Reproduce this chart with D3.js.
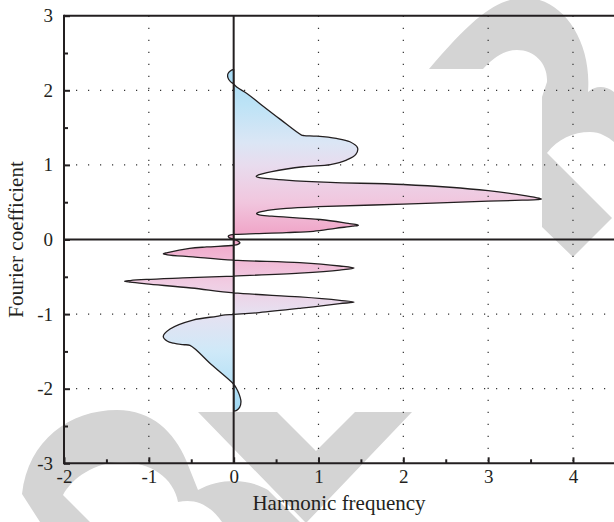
<!DOCTYPE html>
<html><head><meta charset="utf-8">
<script src="https://cdn.jsdelivr.net/npm/d3@7"></script>
<style>
body{margin:0;background:#fff;}
svg text{font-family:"Liberation Serif","Times New Roman",serif;fill:#231f20;}
</style>
</head><body>
<svg id="chart" width="614" height="522"></svg>
<script>
// ---- data ----
const xMajorTicks = [-2, -1, 0, 1, 2, 3, 4];
const xTickLabels = ["-2", "-1", "0", "1", "2", "3", "4"];
const xMinorTicks = [-1.5, -0.5, 0.5, 1.5, 2.5, 3.5];
const yMajorTicks = [-3, -2, -1, 0, 1, 2, 3];
const yTickLabels = ["-3", "-2", "-1", "0", "1", "2", "3"];
const yMinorTicks = [-2.5, -1.5, -0.5, 0.5, 1.5, 2.5];
const xGrid = [-1, 1, 2, 3, 4];
const yGrid = [-2, -1, 1, 2];
const xTitle = "Harmonic frequency";
const yTitle = "Fourier coefficient";

// closed curve traced from the top (harmonic frequency, Fourier coefficient)
const curveX = [
  0.00, -0.04, -0.068, -0.068, -0.04, 0.00,
  0.04, 0.16, 0.31, 0.55, 0.80, 0.83, 0.98, 1.21, 1.37, 1.46, 1.44, 1.33, 1.14,
  0.82, 0.45, 0.29, 0.265, 0.29, 0.62, 1.14, 2.0, 3.0, 3.45, 3.60, 3.63, 3.58, 3.4, 3.0, 2.0, 1.0, 0.62, 0.40, 0.285, 0.27, 0.30, 0.45, 1.02, 1.35, 1.46, 1.47, 1.40, 1.2, 0.94, 0.62, 0.05,
  -0.035, -0.064, -0.05, 0.00, 0.05, 0.074, 0.05, 0.00,
  -0.32, -0.52, -0.78, -0.83, -0.78, -0.48, 0.00, 0.78, 1.25, 1.42, 1.25, 0.78, 0.00,
  -0.6, -1.03, -1.22, -1.285, -1.22, -1.03, -0.5, 0.00, 0.78, 1.25, 1.42, 1.25, 0.8, 0.3, 0.00,
  -0.1, -0.2, -0.48, -0.75, -0.83, -0.78, -0.71, -0.6, -0.515, -0.26, 0.00,
  0.03, 0.06, 0.086, 0.07, 0.035, 0.00
];
const curveY = [
  2.28, 2.26, 2.22, 2.17, 2.12, 2.085,
  2.04, 1.955, 1.82, 1.61, 1.40, 1.393, 1.385, 1.355, 1.31, 1.23, 1.14, 1.065, 1.005,
  0.975, 0.91, 0.865, 0.848, 0.832, 0.797, 0.765, 0.737, 0.655, 0.585, 0.553, 0.542, 0.534, 0.527, 0.514, 0.474, 0.44, 0.418, 0.39, 0.36, 0.347, 0.33, 0.313, 0.268, 0.215, 0.195, 0.19, 0.178, 0.15, 0.11, 0.093, 0.07,
  0.062, 0.045, 0.022, 0.005, -0.02, -0.045, -0.065, -0.077,
  -0.10, -0.12, -0.175, -0.19, -0.205, -0.233, -0.277, -0.31, -0.355, -0.383, -0.41, -0.45, -0.49,
  -0.515, -0.535, -0.55, -0.56, -0.572, -0.595, -0.65, -0.715, -0.77, -0.815, -0.838, -0.86, -0.92, -0.98, -1.005,
  -1.01, -1.03, -1.08, -1.20, -1.30, -1.365, -1.39, -1.41, -1.42, -1.68, -1.94,
  -1.99, -2.06, -2.17, -2.25, -2.29, -2.30
];
// fill colour by coefficient value
const gradValues = [2.3, 1.8, 1.3, 1.0, 0.5, 0.1, 0.0, -0.2, -0.6, -1.0, -1.5, -2.0, -2.3];
const gradColors = ["#a6dbf5", "#bde3f6", "#dbe6f5", "#e8dcee", "#f1c6de", "#f0a7c9", "#f0a5c8",
                    "#f1b4d2", "#f0cde3", "#e6e1f1", "#cfe9f8", "#b3e0f6", "#9fd8f3"];

// ---- chart ----
const W = 614, H = 522;
const FONT = '"Liberation Serif","Times New Roman",serif';
const svg = d3.select("#chart");
const x = d3.scaleLinear().domain([-2, 4.5]).range([64, 615.4]);
const y = d3.scaleLinear().domain([-3, 3]).range([463.3, 15.7]);
const ink = "#231f20";

// watermark (decorative)
const wm = svg.append("g").attr("fill", "#d4d4d4");
wm.append("path").attr("d",
  "M429,69 L483,69 C495,56 505,50 517,50 C535,50 548,64 547,82 L542,97 L542,227 L573,257 L612,218 L547,153 " +
  "C558,139 573,132 590,132 C600,132 608,137 614,142 L614,92 C606,86 596,85 588,92 " +
  "C592,40 562,-2 526,-2 C498,-2 476,14 429,69 Z");
wm.append("path").attr("d", "M198,412 L277,412 L316,451 L355,412 L412,412 L307,522 L305,522 Z");
wm.append("path").attr("d",
  "M22,494 C28,440 70,410 117,410 C152,410 174,432 186,460 L198,490 C220,478 248,478 268,490 L300,522 L222,522 " +
  "C210,505 196,498 178,502 C174,478 150,462 122,462 C95,462 72,478 63,495 L90,522 L40,522 Z");

// horizontal grid (under the fill)
svg.append("g").selectAll("line").data(yGrid).join("line")
  .attr("x1", x(-2)).attr("x2", W).attr("y1", d => y(d)).attr("y2", d => y(d))
  .attr("stroke", "#333").attr("stroke-width", 1.2).attr("stroke-dasharray", "1.2 10.8");

// gradient
const defs = svg.append("defs");
const grad = defs.append("linearGradient").attr("id", "fillGrad")
  .attr("gradientUnits", "userSpaceOnUse")
  .attr("x1", 0).attr("x2", 0).attr("y1", y(2.3)).attr("y2", y(-2.3));
gradValues.forEach((v, i) => {
  grad.append("stop").attr("offset", (2.3 - v) / 4.6).attr("stop-color", gradColors[i]);
});

// curve
const pts = curveX.map((v, i) => [v, curveY[i]]);
const line = d3.line().x(d => x(d[0])).y(d => y(d[1])).curve(d3.curveCatmullRom.alpha(0.5));
svg.append("path").attr("d", line(pts) + "Z")
  .attr("fill", "url(#fillGrad)").attr("fill-rule", "nonzero")
  .attr("stroke", ink).attr("stroke-width", 1.3).attr("stroke-linejoin", "round");

// vertical grid
svg.append("g").selectAll("line").data(xGrid).join("line")
  .attr("y1", y(3)).attr("y2", y(-3)).attr("x1", d => x(d)).attr("x2", d => x(d))
  .attr("stroke", "#333").attr("stroke-width", 1.2).attr("stroke-dasharray", "1.2 10.8");

// zero lines
svg.append("line").attr("x1", x(-2)).attr("x2", W).attr("y1", y(0)).attr("y2", y(0))
  .attr("stroke", ink).attr("stroke-width", 2);
svg.append("line").attr("x1", x(0)).attr("x2", x(0)).attr("y1", y(3)).attr("y2", y(-3))
  .attr("stroke", ink).attr("stroke-width", 2);

// axes
const xAxis = d3.axisBottom(x).tickValues(xMajorTicks).tickSize(-6).tickSizeOuter(0).tickPadding(6.5)
  .tickFormat((d, i) => xTickLabels[i]);
const gx = svg.append("g").attr("transform", `translate(0,${y(-3)})`).call(xAxis);
const xMinor = d3.axisBottom(x).tickValues(xMinorTicks).tickSize(-4).tickSizeOuter(0).tickFormat("");
const gxm = svg.append("g").attr("transform", `translate(0,${y(-3)})`).call(xMinor);

const yAxis = d3.axisLeft(y).tickValues(yMajorTicks).tickSize(-6).tickSizeOuter(0).tickPadding(11)
  .tickFormat((d, i) => yTickLabels[i]);
const gy = svg.append("g").attr("transform", `translate(${x(-2)},0)`).call(yAxis);
const yMinor = d3.axisLeft(y).tickValues(yMinorTicks).tickSize(-4).tickSizeOuter(0).tickFormat("");
const gym = svg.append("g").attr("transform", `translate(${x(-2)},0)`).call(yMinor);

[gx, gxm, gy, gym].forEach(g => {
  g.attr("font-family", FONT).attr("font-size", 19);
  g.select(".domain").remove();
  g.selectAll(".tick line").attr("stroke", ink).attr("stroke-width", 2);
  g.selectAll(".tick text").attr("font-family", FONT).attr("font-size", 19).style("font-family", FONT).style("fill", ink);
});

// frame
svg.append("line").attr("x1", x(-2)).attr("x2", W).attr("y1", y(3)).attr("y2", y(3)).attr("stroke", ink).attr("stroke-width", 2);
svg.append("line").attr("x1", x(-2)).attr("x2", W).attr("y1", y(-3)).attr("y2", y(-3)).attr("stroke", ink).attr("stroke-width", 2);
svg.append("line").attr("x1", x(-2)).attr("x2", x(-2)).attr("y1", y(3) - 1).attr("y2", y(-3) + 1).attr("stroke", ink).attr("stroke-width", 2);

// titles
svg.append("text").attr("x", (x(-2) + W) / 2).attr("y", 510).attr("text-anchor", "middle")
  .attr("font-size", 21).style("font-family", FONT).text(xTitle);
svg.append("text").attr("transform", `translate(23,${(y(3) + y(-3)) / 2}) rotate(-90)`)
  .attr("text-anchor", "middle").attr("font-size", 21).style("font-family", FONT).text(yTitle);
</script>
</body></html>
